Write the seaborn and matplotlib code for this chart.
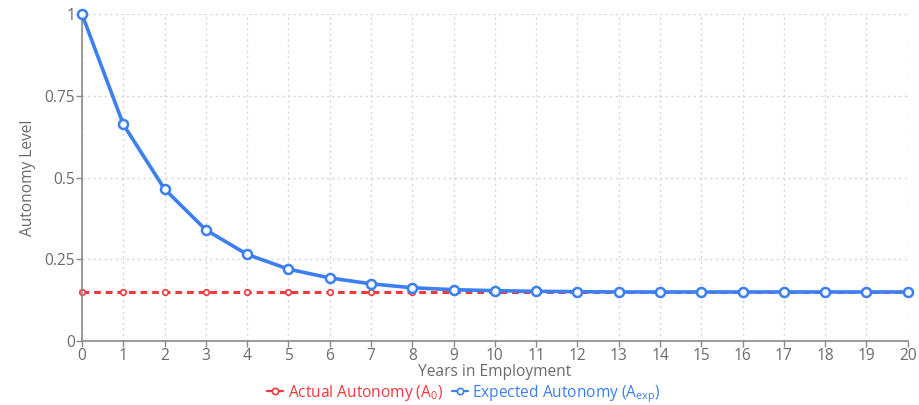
import pandas as pd
import seaborn as sns
import matplotlib.pyplot as plt
from matplotlib.lines import Line2D

# data
years = list(range(0, 21))
expected = [1.0, 0.663, 0.465, 0.34, 0.265, 0.22, 0.193, 0.175, 0.163, 0.157,
            0.154, 0.152, 0.151, 0.15, 0.15, 0.15, 0.15, 0.15, 0.15, 0.15, 0.15]
actual = [0.15] * 21
series_labels = [r"Actual Autonomy (A$_\mathrm{0}$)",
                 r"Expected Autonomy (A$_\mathrm{exp}$)"]

df = pd.DataFrame({"Years": years, "Expected": expected, "Actual": actual})

sns.set_theme(style="white")
plt.rcParams["font.family"] = ["Open Sans", "DejaVu Sans"]
plt.rcParams["mathtext.fontset"] = "custom"
plt.rcParams["mathtext.rm"] = "Open Sans"
plt.rcParams["mathtext.it"] = "Open Sans"

red = "#f0393d"
blue = "#3b7ff0"
grey = "#6b6b6b"
fs = 11.2

fig = plt.figure(figsize=(9.19, 4.05), dpi=100)
ax = fig.add_axes([0.0892, 0.158, 0.8985, 0.807])

sns.lineplot(data=df, x="Years", y="Actual", ax=ax, color=red, linewidth=2.2,
             linestyle=(0, (2.2, 1.6)), marker="o", markersize=4,
             markerfacecolor="white", markeredgecolor=red, markeredgewidth=1.2,
             clip_on=False)
sns.lineplot(data=df, x="Years", y="Expected", ax=ax, color=blue, linewidth=2.6,
             marker="o", markersize=6.5, markerfacecolor="white",
             markeredgecolor=blue, markeredgewidth=1.8,
             clip_on=False)
ax.lines[0].set_zorder(2)
ax.lines[1].set_zorder(6)

ax.set_xlim(0, 20)
ax.set_ylim(0, 1.0)
ax.set_xticks(years)
ax.set_yticks([0, 0.25, 0.5, 0.75, 1])
ax.set_yticklabels(["0", "0.25", "0.5", "0.75", "1"])
ax.grid(True, color="#d5d5d5", linestyle=(0, (1.5, 2.5)), linewidth=1)
for s in ["top", "right"]:
    ax.spines[s].set_visible(False)
for s in ["left", "bottom"]:
    ax.spines[s].set_color("#8a8a8a")
    ax.spines[s].set_linewidth(1.2)
ax.tick_params(axis="both", colors="#8a8a8a", labelcolor=grey, labelsize=fs,
               length=4, width=1, direction="out", bottom=True, left=True, pad=1)
ax.set_xlabel("Years in Employment", color=grey, fontsize=fs, labelpad=0)
ax.set_ylabel("Autonomy Level", color=grey, fontsize=fs, labelpad=6)

# legend proxies (small solid line with open circle)
handles = [Line2D([], [], color=c, linewidth=1.6, marker="o", markersize=4.5,
                  markerfacecolor="white", markeredgecolor=c, markeredgewidth=1.2)
           for c in [red, blue]]
leg = fig.legend(handles, series_labels, loc="center", bbox_to_anchor=(0.505, 0.028),
                 ncol=2, frameon=False, fontsize=fs, handlelength=1.0,
                 handletextpad=0.3, columnspacing=0.6, borderpad=0)
for txt, c in zip(leg.get_texts(), [red, blue]):
    txt.set_color(c)

fig.savefig("out.png", dpi=100)
